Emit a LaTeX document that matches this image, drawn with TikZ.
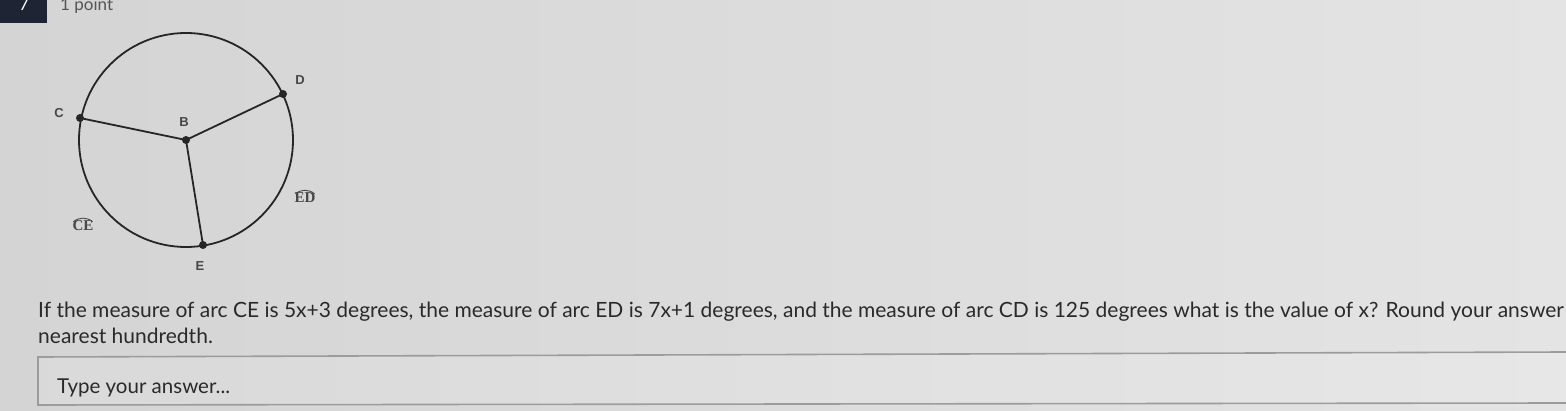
\documentclass[tikz,border=0pt]{standalone}
\usepackage{fontspec}
\setmainfont{Lato}
\newfontfamily\lblfont{Liberation Sans}
\newfontfamily\arcfont{Liberation Serif}
\definecolor{bgL}{HTML}{D4D4D4}
\definecolor{bgR}{HTML}{E4E4E4}
\definecolor{ink}{HTML}{262626}
\definecolor{txt}{HTML}{2A2A2A}
\definecolor{boxline}{HTML}{9C9C9C}
\definecolor{navy}{HTML}{1E2433}
\tikzset{
  geo/.style={draw=ink, line width=1.8pt},
  pt/.style={circle, fill=ink, inner sep=0pt, minimum size=8pt},
  lbl/.style={font=\lblfont\fontsize{13}{13}\selectfont\bfseries, text=ink!85, inner sep=0pt},
  arclbl/.style={font=\arcfont\fontsize{15}{15}\selectfont\bfseries, text=ink!85, inner sep=0pt},
  overarc/.style={draw=ink!85, line width=0.9pt},
  para/.style={font=\fontsize{21}{26}\selectfont, text=txt, inner sep=0pt, anchor=base west},
}
\begin{document}
\begin{tikzpicture}[x=1pt,y=-1pt]
\useasboundingbox (0,0) rectangle (1566,411);
\clip (0,0) rectangle (1566,411);
\shade[left color=bgL, right color=bgR] (0,0) rectangle (1566,411);
% header
\fill[navy] (0,-5) rectangle (47,23);
\node[font=\fontsize{17}{17}\selectfont, text=white, anchor=base] (num) at (24,11) {7};
\node[para, font=\fontsize{17}{17}\selectfont, text=txt!80] (pts) at (60,11) {1 point};
% geometry
\coordinate (B) at (186,140);
\coordinate (C) at (80,118);
\coordinate (D) at (283,94);
\coordinate (E) at (203,245);
\draw[geo] (B) circle (107);
\draw[geo] (C) -- (B) -- (D);
\draw[geo] (B) -- (E);
\foreach \p in {B,C,D,E} \node[pt] at (\p) {};
\node[lbl] (lC) at (59,113) {C};
\node[lbl] (lB) at (184,122) {B};
\node[lbl] (lD) at (300,80) {D};
\node[lbl] (lE) at (200,266) {E};
\node[arclbl] (ce) at (83,226) {CE};
\draw[overarc] ([xshift=1pt,yshift=-1pt]ce.north west) to[bend left=40] ([xshift=-1pt,yshift=-1pt]ce.north east);
\node[arclbl] (ed) at (305,198) {ED};
\draw[overarc] ([xshift=1pt,yshift=-1pt]ed.north west) to[bend left=40] ([xshift=-1pt,yshift=-1pt]ed.north east);
% question
\node[para] (q1) at (38,318) {If the measure of arc CE is 5x+3 degrees, the measure of arc ED is 7x+1 degrees, and the measure of arc CD is 125 degrees what is the value of x? Round your answer};
\node[para] (q2) at (38,344) {nearest hundredth.};
% answer box
\fill[white, opacity=0.12] (38,357) -- (1566,352) -- (1566,403) -- (38,405) -- cycle;
\draw[boxline, line width=1.6pt] (1566,352) -- (38,357) -- (38,405) -- (1566,403);
\node[para, font=\fontsize{20.5}{20.5}\selectfont] (ans) at (57,393) {Type your answer...};
\end{tikzpicture}
\end{document}
